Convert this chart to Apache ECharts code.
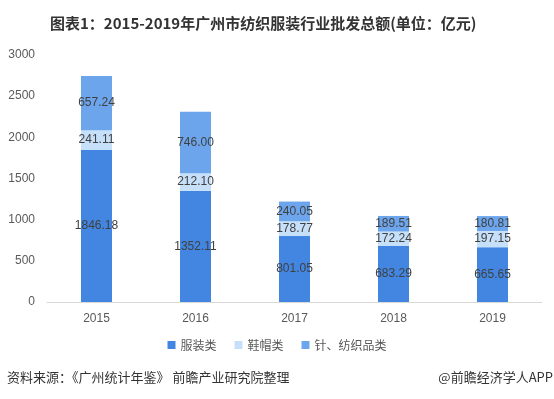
<!DOCTYPE html>
<html>
<head>
<meta charset="utf-8">
<script src="https://cdn.jsdelivr.net/npm/echarts@6/dist/echarts.min.js"></script>
<style>
  html, body { margin: 0; padding: 0; background: #fff; }
  #main { width: 554px; height: 399px; }
</style>
</head>
<body>
<div id="main"></div>
<script>
// 数据
var years = ['2015', '2016', '2017', '2018', '2019'];
var fuzhuang = [1846.18, 1352.11, 801.05, 683.29, 665.65];
var xiemao = [241.11, 212.10, 178.77, 172.24, 197.15];
var zhenfang = [657.24, 746.00, 240.05, 189.51, 180.81];
var yTicks = [0, 500, 1000, 1500, 2000, 2500, 3000];

var myChart = echarts.init(document.getElementById('main'));

var labelStyle = {
  show: true,
  position: 'inside',
  color: '#404040',
  fontSize: 12,
  fontFamily: 'Liberation Sans, Arial, sans-serif',
  formatter: function (p) { return p.value.toFixed(2); }
};

myChart.setOption({
  animation: false,
  textStyle: { fontFamily: 'Noto Sans CJK SC, sans-serif' },
  title: {
    text: '图表1：2015-2019年广州市纺织服装行业批发总额(单位：亿元)',
    left: 45,
    top: 11,
    textStyle: { fontSize: 15, fontWeight: 'bold', color: '#333' }
  },
  legend: {
    bottom: 43,
    left: 'center',
    itemWidth: 8,
    itemHeight: 8,
    itemGap: 18,
    icon: 'rect',
    textStyle: { fontSize: 12, color: '#595959' },
    data: ['服装类', '鞋帽类', '针、纺织品类']
  },
  grid: {
    left: 47,
    right: 12,
    top: 55,
    bottom: 97
  },
  xAxis: {
    type: 'category',
    data: years,
    axisLine: { lineStyle: { color: '#d9d9d9' } },
    axisTick: { show: false },
    axisLabel: { color: '#595959', fontSize: 12, margin: 11, fontFamily: 'Liberation Sans, Arial, sans-serif' }
  },
  yAxis: {
    type: 'value',
    min: yTicks[0],
    max: yTicks[yTicks.length - 1],
    interval: 500,
    splitLine: { show: false },
    axisLine: { show: false },
    axisTick: { show: false },
    axisLabel: {
      color: '#595959',
      fontSize: 12,
      margin: 12,
      fontFamily: 'Liberation Sans, Arial, sans-serif',
      formatter: function (v) { return String(v); }
    }
  },
  series: [
    {
      name: '服装类',
      type: 'bar',
      stack: 'total',
      barWidth: 31,
      itemStyle: { color: '#4286E1' },
      label: labelStyle,
      data: fuzhuang
    },
    {
      name: '鞋帽类',
      type: 'bar',
      stack: 'total',
      itemStyle: { color: '#C6E0FA' },
      label: labelStyle,
      data: xiemao
    },
    {
      name: '针、纺织品类',
      type: 'bar',
      stack: 'total',
      itemStyle: { color: '#6DA5EC' },
      label: labelStyle,
      data: zhenfang
    }
  ],
  graphic: [
    {
      type: 'text',
      left: 7,
      top: 371,
      style: { text: '资料来源：《广州统计年鉴》 前瞻产业研究院整理', fill: '#333', font: '13px Noto Sans CJK SC' }
    },
    {
      type: 'text',
      right: 1,
      top: 371,
      style: { text: '@前瞻经济学人APP', fill: '#333', font: '13px Noto Sans CJK SC' }
    }
  ]
});
</script>
</body>
</html>
